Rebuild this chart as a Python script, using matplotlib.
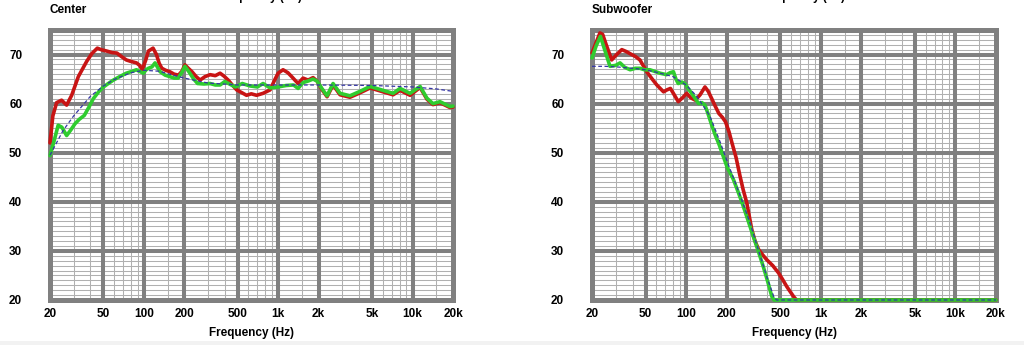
import numpy as np
import matplotlib
matplotlib.use('Agg')
import matplotlib.pyplot as plt
from matplotlib.patches import Rectangle
from matplotlib.ticker import NullFormatter

# --- data ----------------------------------------------------------------
x_major = [20, 50, 100, 200, 500, 1000, 2000, 5000, 10000, 20000]
x_labels = ['20', '50', '100', '200', '500', '1k', '2k', '5k', '10k', '20k']
x_minor = [30, 40, 60, 70, 80, 90, 150, 300, 400, 600, 700, 800, 900,
           1500, 3000, 4000, 6000, 7000, 8000, 9000, 15000]
y_major = [20, 30, 40, 50, 60, 70]

# Center
center_red_f = [20, 21, 22.4, 24.4, 26.6, 29, 32.5, 37.5, 41, 45, 48, 53, 58, 63, 68, 74, 80, 88, 93, 97,
                103, 108, 117, 124, 130, 136, 145, 156, 168, 181, 192, 202, 214, 228, 245, 262, 285, 311,
                340, 369, 395, 424, 455, 491, 530, 581, 630, 690, 771, 870, 940, 998, 1086, 1180, 1260,
                1330, 1406, 1531, 1668, 1817, 1946, 2100, 2310, 2560, 2885, 3420, 4060, 4830, 6040,
                7160, 8070, 9580, 11380, 12800, 14200, 16000, 19000, 20000]
center_red_db = [52.0, 57.5, 60.2, 60.7, 59.7, 61.7, 65.5, 68.6, 70.2, 71.3, 71.0, 70.7, 70.4, 70.3, 69.6,
                 68.9, 68.6, 68.3, 67.8, 66.9, 68.8, 70.7, 71.3, 70.0, 68.2, 67.2, 66.8, 66.5, 66.0, 65.8,
                 66.6, 67.9, 67.2, 66.5, 65.5, 64.8, 65.5, 65.9, 65.7, 66.2, 65.6, 64.8, 63.8, 62.8, 62.3,
                 61.7, 62.0, 61.7, 62.1, 62.8, 64.8, 66.2, 66.9, 66.3, 65.5, 64.8, 64.1, 65.2, 64.8, 65.3,
                 64.6, 63.0, 61.4, 63.8, 61.8, 61.3, 62.2, 63.2, 62.4, 61.8, 62.7, 61.7, 63.3, 60.9, 59.8,
                 60.2, 59.2, 59.3]

center_green_f = [20, 21.5, 23, 24.5, 26.6, 28.5, 30.7, 33, 36, 39, 42, 46, 50, 55, 59.3, 66, 74, 80, 88,
                  94, 99, 104, 108, 115, 121, 127, 132, 144, 156, 168, 180, 192, 202, 211, 220, 235, 251,
                  280, 311, 340, 369, 400, 440, 480, 540, 617, 700, 771, 870, 998, 1150, 1300, 1406, 1531,
                  1668, 1817, 1946, 2100, 2310, 2560, 2885, 3420, 4060, 4830, 6040, 7160, 8070, 9580,
                  11380, 12800, 14200, 16000, 19000, 20000]
center_green_db = [49.4, 52.5, 55.6, 55.2, 53.5, 54.6, 55.9, 56.8, 57.6, 59.3, 61.0, 62.4, 63.4, 64.2,
                   64.8, 65.5, 66.2, 66.5, 66.9, 66.5, 66.2, 66.9, 67.2, 67.5, 68.3, 67.3, 66.5, 65.8,
                   65.5, 65.2, 65.2, 66.4, 67.6, 66.9, 66.2, 65.0, 64.1, 64.0, 64.1, 63.8, 63.8, 64.5,
                   63.9, 63.4, 64.1, 63.6, 63.4, 64.1, 63.2, 63.4, 63.7, 63.8, 63.1, 64.3, 64.6, 65.0,
                   64.6, 63.2, 61.6, 64.1, 62.1, 61.6, 62.5, 63.5, 62.7, 62.1, 63.1, 62.1, 63.5, 61.1,
                   60.0, 60.4, 59.4, 59.5]

center_target_f = [20, 25, 30, 40, 50, 60, 80, 100, 130, 160, 200, 300, 500, 1000, 2000, 5000, 10000,
                   15000, 20000]
center_target_db = [49.5, 54.5, 57.5, 61.5, 63.6, 64.9, 66.3, 66.8, 66.6, 65.9, 65.2, 64.2, 63.8, 63.8,
                    63.8, 63.7, 63.4, 63.0, 62.5]

# Subwoofer
sub_red_f = [20, 21.5, 22.9, 24, 25.5, 28, 30.5, 33.3, 36, 39.4, 42, 45.4, 51, 56, 60.6, 68, 72, 76.5,
             82, 87.4, 94, 101, 108, 117, 127, 138, 146, 155, 165, 175, 186, 196, 208, 220, 235, 251,
             265, 282, 307, 325, 345, 370, 397, 440, 486, 520, 560, 628, 660, 20000]
sub_red_db = [70.3, 72.5, 74.4, 74.1, 72.0, 68.9, 70.0, 71.0, 70.6, 70.0, 69.6, 68.9, 66.5, 65.0, 63.8,
              62.4, 62.8, 63.1, 61.7, 60.4, 61.2, 62.1, 61.2, 60.7, 61.8, 63.4, 62.5, 61.0, 59.4, 58.0,
              57.2, 56.3, 54.3, 51.8, 49.0, 45.3, 42.5, 39.8, 34.4, 32.0, 30.3, 29.2, 28.2, 27.0, 25.5,
              24.2, 22.7, 20.7, 20.0, 20.0]

sub_green_f = [20, 21.5, 23.1, 24.5, 27.2, 30, 32.3, 35, 38.4, 42, 45.4, 49, 53.8, 58, 64, 71.6, 76,
               80.5, 84, 87.4, 93, 98, 104, 110, 117, 124, 131, 138, 146, 155, 165, 175, 188, 202, 224,
               245, 265, 290, 315, 345, 374, 405, 433, 450, 20000]
sub_green_db = [69.3, 71.8, 73.7, 71.5, 67.6, 67.8, 68.3, 67.4, 66.9, 67.2, 67.2, 66.9, 66.9, 66.6, 66.2,
                65.9, 66.3, 66.5, 65.0, 64.1, 64.4, 64.1, 63.0, 62.1, 61.0, 60.0, 60.2, 59.7, 57.8, 55.6,
                53.5, 51.8, 49.4, 47.0, 44.6, 41.8, 39.2, 36.0, 33.0, 29.8, 26.8, 23.6, 20.7, 20.0, 20.0]

sub_target_f = [20, 25, 30, 40, 50, 60, 80, 100, 120, 150, 180, 200, 250, 300, 350, 400, 450, 470, 20000]
sub_target_db = [67.6, 67.6, 67.5, 67.2, 66.9, 66.4, 65.5, 63.8, 61.5, 57.5, 52.0, 48.5, 41.5, 35.5,
                 29.5, 24.5, 20.5, 20.0, 20.0]

panels = [
    ('Center', (center_red_f, center_red_db), (center_green_f, center_green_db),
     (center_target_f, center_target_db)),
    ('Subwoofer', (sub_red_f, sub_red_db), (sub_green_f, sub_green_db),
     (sub_target_f, sub_target_db)),
]

# --- figure ----------------------------------------------------------------
W, H = 1024, 345
fig = plt.figure(figsize=(W / 100, H / 100), dpi=100)
fig.patches.append(Rectangle((0, 0), 1, 4 / H, transform=fig.transFigure,
                             facecolor='#f2f2f2', edgecolor='none'))

font = dict(family=['Liberation Sans', 'DejaVu Sans'], weight='bold')
axes_px = [(50, 403), (592, 404)]
GRID = '#808080'

for (left, width), (title, red, green, target) in zip(axes_px, panels):
    ax = fig.add_axes([left / W, 45 / H, width / W, 270 / H])
    ax.set_xscale('log')
    ax.set_xlim(20, 20000)
    ax.set_ylim(20, 75)

    # grid: thin 1 dB / minor freq lines, then thick decade lines
    for y in range(21, 75):
        if y % 10:
            ax.axhline(y, color='#b0b0b0', lw=0.75, zorder=0.5)
    for f in x_minor:
        ax.axvline(f, color='#b0b0b0', lw=0.75, zorder=0.5)
    for y in y_major[1:]:
        ax.axhline(y, color=GRID, lw=2.9, zorder=0.6)
    for f in x_major[1:-1]:
        ax.axvline(f, color=GRID, lw=2.9, zorder=0.6)

    ax.plot(*red, color='#c81414', lw=2.6, zorder=3, clip_on=False, solid_capstyle='round')
    ax.plot(*green, color='#2fcc2f', lw=2.6, zorder=3.1, clip_on=False, solid_capstyle='round')
    ax.plot(*target, color='#3535a5', lw=0.9, ls=(0, (3, 2)), zorder=3.2, clip_on=False)

    ax.set_xticks(x_major)
    ax.set_xticklabels(x_labels)
    ax.set_xticks(x_minor, minor=True)
    ax.xaxis.set_minor_formatter(NullFormatter())
    ax.set_yticks(y_major)
    ax.tick_params(which='both', length=0)
    ax.tick_params(axis='x', pad=6)
    ax.tick_params(axis='y', pad=20)
    for lab in ax.get_xticklabels() + ax.get_yticklabels():
        lab.set_fontproperties(dict(font, size=8.5))

    for s in ax.spines.values():
        s.set_color(GRID)
        s.set_linewidth(3.6)
        s.set_zorder(2.5)

    ax.set_xlabel('Frequency (Hz)', fontsize=8.5, labelpad=5, **font)
    fig.text(left / W, 1 - 10 / H, title, fontsize=8.5, ha='left', va='center', **font)
    # x label of the chart above, only its lowest part shows at the top edge
    fig.text((left + width / 2 + 8) / W, 1.0, 'Frequency (Hz)', fontsize=8.5,
             ha='center', va='baseline', **font)

fig.savefig('out.png', dpi=100, facecolor='white')
